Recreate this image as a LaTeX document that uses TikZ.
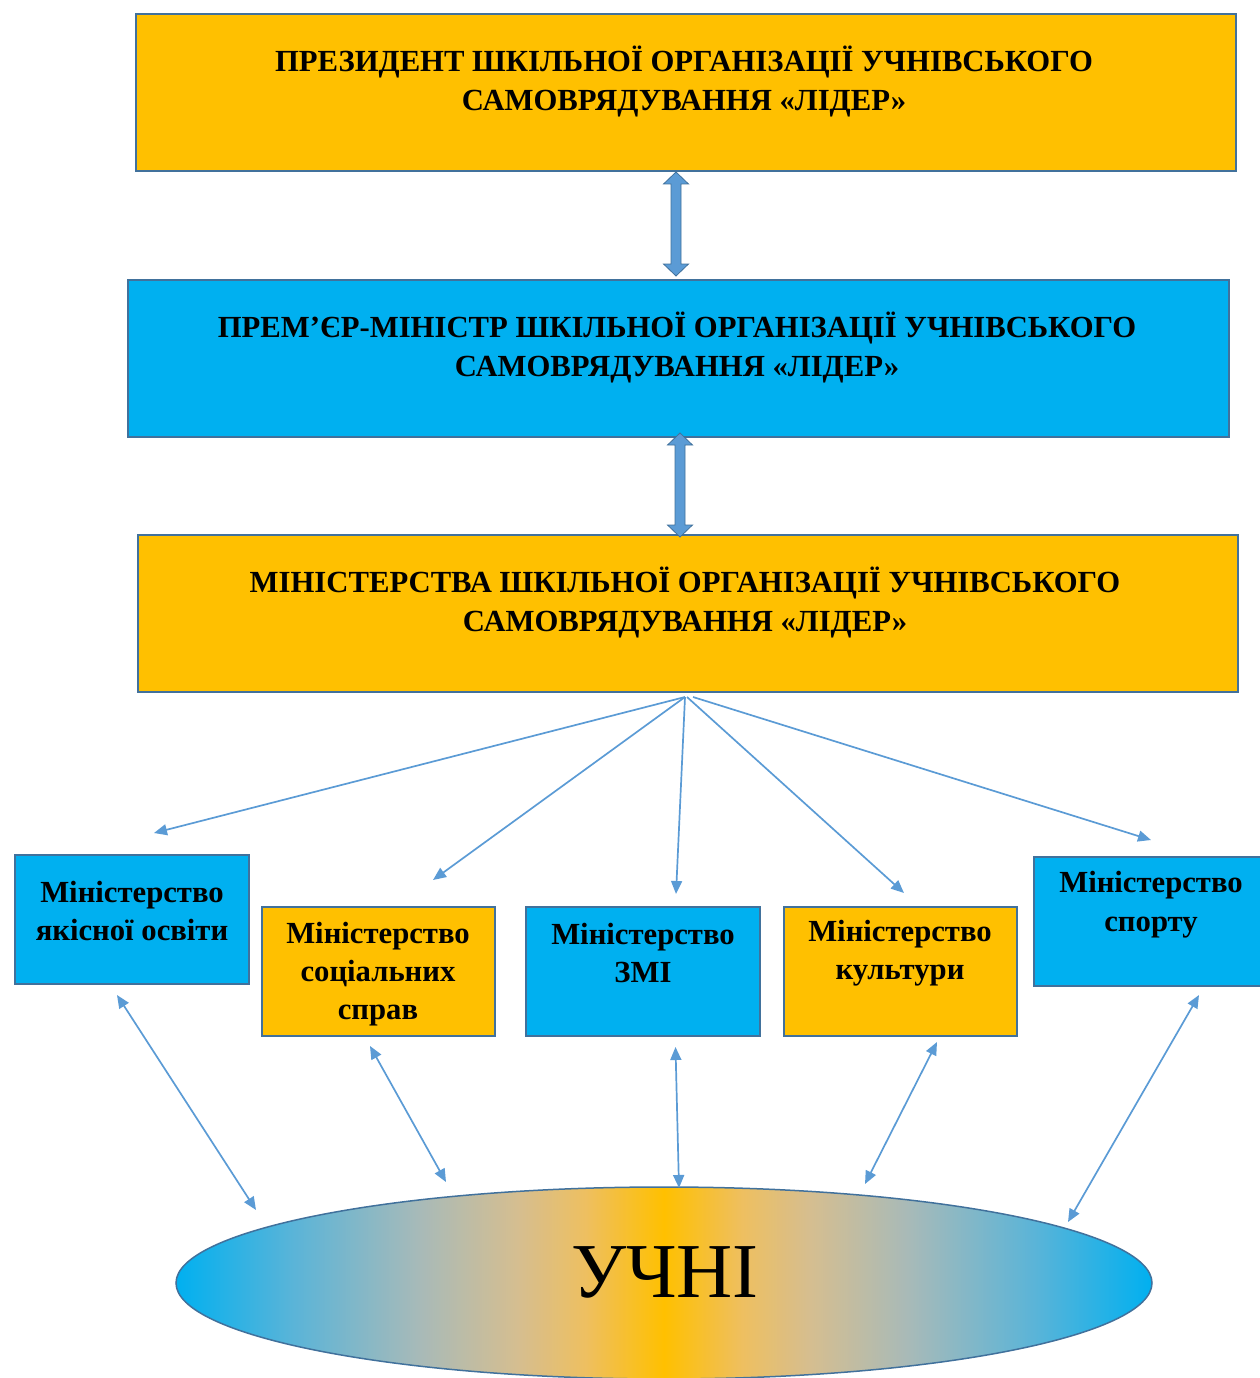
\documentclass[tikz,border=0pt]{standalone}
\usepackage{fontspec}
\setmainfont{Liberation Serif}
\usetikzlibrary{arrows.meta,calc}
\definecolor{orng}{HTML}{FFC000}
\definecolor{blu}{HTML}{00B0F0}
\definecolor{edgec}{HTML}{41719C}
\definecolor{arr}{HTML}{5B9BD5}
\definecolor{sc1}{HTML}{5AB4D8}
\definecolor{sc2}{HTML}{A8BAB8}
\definecolor{sc3}{HTML}{D5BE90}
\definecolor{sc4}{HTML}{EEBF60}
\pgfdeclarehorizontalshading{ushade}{100bp}{color(0bp)=(blu); color(25bp)=(blu); color(31bp)=(sc1); color(37.5bp)=(sc2); color(42.5bp)=(sc3); color(46bp)=(sc4); color(50bp)=(orng); color(54bp)=(sc4); color(57.5bp)=(sc3); color(62.5bp)=(sc2); color(69bp)=(sc1); color(75bp)=(blu); color(100bp)=(blu)}
\begin{document}
\begin{tikzpicture}[x=1bp,y=-1bp,
  bigbox/.style={draw=edgec, line width=1.3bp, inner sep=0pt, outer sep=0pt, minimum width=1100bp, minimum height=157bp},
  smallbox/.style={draw=edgec, line width=1.3bp, inner sep=0pt, outer sep=0pt, minimum width=233bp, minimum height=129bp},
  ttext/.style={font=\bfseries\fontsize{30.8}{38.5}\selectfont, align=center, inner sep=0pt},
  thinarr/.style={draw=arr, line width=1.7bp, -{Triangle[length=13bp,width=11bp]}},
  boththe/.style={draw=arr, line width=1.7bp, {Triangle[length=13bp,width=11bp]}-{Triangle[length=13bp,width=11bp]}},
  fatarr/.style={fill=arr, draw=edgec, line width=0.8bp, line join=miter}
]
\useasboundingbox (0,0) rectangle (1259,1378);

% big boxes
\node[bigbox, fill=orng] (pres) at (686,92.5) {};
\node[bigbox, fill=blu, minimum width=1101bp] (pm) at (678.5,358.5) {};
\node[bigbox, fill=orng] (mins) at (688,613.5) {};

\node[ttext] (tpres) at (684,81.5) {ПРЕЗИДЕНТ ШКІЛЬНОЇ ОРГАНІЗАЦІЇ УЧНІВСЬКОГО\\САМОВРЯДУВАННЯ «ЛІДЕР»};
\node[ttext] (tpm) at (677,347.5) {ПРЕМ’ЄР-МІНІСТР ШКІЛЬНОЇ ОРГАНІЗАЦІЇ УЧНІВСЬКОГО\\САМОВРЯДУВАННЯ «ЛІДЕР»};
\node[ttext] (tmins) at (685,602.5) {МІНІСТЕРСТВА ШКІЛЬНОЇ ОРГАНІЗАЦІЇ УЧНІВСЬКОГО\\САМОВРЯДУВАННЯ «ЛІДЕР»};

% fat double arrows
\coordinate (a1t) at (676,172);
\coordinate (a1b) at (676,276);
\draw[fatarr] (a1t) -- ($(a1t)+(12.5,12)$) -- ($(a1t)+(5,12)$) -- ($(a1b)+(5,-12)$) -- ($(a1b)+(12.5,-12)$) -- (a1b) -- ($(a1b)+(-12.5,-12)$) -- ($(a1b)+(-5,-12)$) -- ($(a1t)+(-5,12)$) -- ($(a1t)+(-12.5,12)$) -- cycle;
\coordinate (a2t) at (680,433);
\coordinate (a2b) at (680,537);
\draw[fatarr] (a2t) -- ($(a2t)+(12.5,12)$) -- ($(a2t)+(5,12)$) -- ($(a2b)+(5,-12)$) -- ($(a2b)+(12.5,-12)$) -- (a2b) -- ($(a2b)+(-12.5,-12)$) -- ($(a2b)+(-5,-12)$) -- ($(a2t)+(-5,12)$) -- ($(a2t)+(-12.5,12)$) -- cycle;

% small boxes
\node[smallbox, fill=blu, minimum width=234bp] (b1) at (132,919.5) {};
\node[smallbox, fill=orng] (b2) at (378.5,971.5) {};
\node[smallbox, fill=blu, minimum width=234bp] (b3) at (643,971.5) {};
\node[smallbox, fill=orng] (b4) at (900.5,971.5) {};
\node[smallbox, fill=blu, minimum width=234bp] (b5) at (1151,921.5) {};

\node[ttext] (tb1) at (132,911) {Міністерство\\якісної освіти};
\node[ttext] (tb2) at (378,974) {Міністерство\\соціальних\\справ};
\node[ttext] (tb3) at (643,953) {Міністерство\\ЗМІ};
\node[ttext] (tb4) at (900,953) {Міністерство\\культури};
\node[ttext] (tb5) at (1151,904.5) {Міністерство\\спорту};

% fan arrows
\coordinate (fan) at (685,697);
\coordinate (f1) at (154,833);
\coordinate (f2) at (433,880);
\coordinate (f3) at (676,894);
\coordinate (f4) at (904,893);
\coordinate (f5) at (1151,840);
\draw[thinarr] (fan) -- (f1);
\draw[thinarr] (fan) -- (f2);
\draw[thinarr] (fan) -- (f3);
\draw[thinarr] ($(fan)+(2,0)$) -- (f4);
\draw[thinarr] ($(fan)+(8,0)$) -- (f5);

% ellipse
\path[shading=ushade, draw=edgec, line width=1.5bp] (664,1283) ellipse [x radius=488, y radius=96];
\node[font=\fontsize{78}{80}\selectfont, inner sep=0pt] (uchni) at (665,1272) {УЧНІ};

% bottom double arrows
\coordinate (u1a) at (117,995);  \coordinate (u1b) at (256,1210);
\coordinate (u2a) at (370,1046); \coordinate (u2b) at (446,1182);
\coordinate (u3a) at (675.5,1047); \coordinate (u3b) at (679,1188);
\coordinate (u4a) at (937,1042); \coordinate (u4b) at (865,1184);
\coordinate (u5a) at (1199,995); \coordinate (u5b) at (1068,1222);
\draw[boththe] (u1a) -- (u1b);
\draw[boththe] (u2a) -- (u2b);
\draw[boththe] (u3a) -- (u3b);
\draw[boththe] (u4a) -- (u4b);
\draw[boththe] (u5a) -- (u5b);
\end{tikzpicture}
\end{document}
